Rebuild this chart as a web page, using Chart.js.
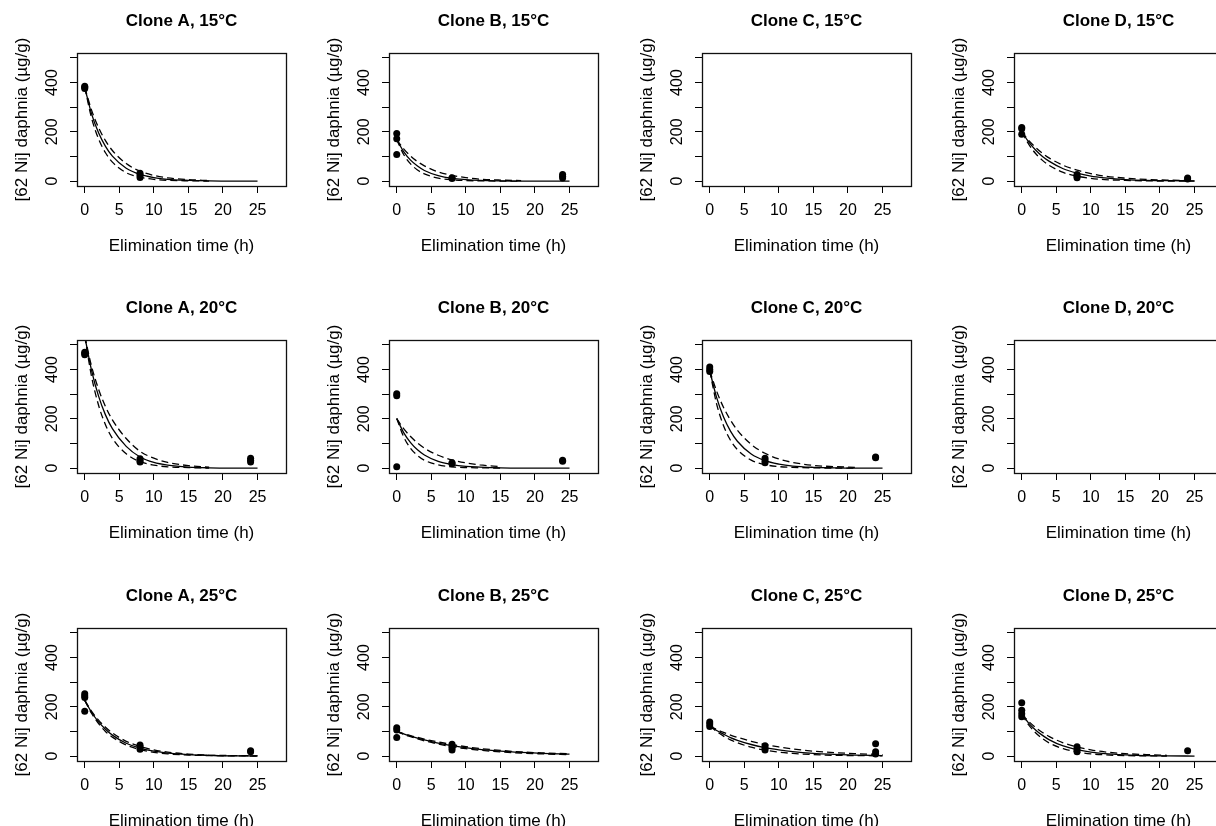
<!DOCTYPE html>
<html><head><meta charset="utf-8">
<script src="https://cdn.jsdelivr.net/npm/chart.js@4.4.1/dist/chart.umd.min.js"></script>
<style>
html,body{margin:0;padding:0;background:#fff;overflow:hidden;width:1216px;height:826px;position:relative;}
canvas.panel{position:absolute;}
</style></head><body>
<script>
// ---- axes ----
const xTicks = [0, 5, 10, 15, 20, 25];
const yTicks = [0, 100, 200, 300, 400, 500];
const yTickLabels = ['0', '', '200', '', '400', ''];
const xTitle = 'Elimination time (h)';
const yTitle = '[62 Ni] daphnia (µg/g)';
const curveTimes = [0, 1, 2, 3, 4, 6, 8, 10, 12, 15, 18, 21, 25];

// ---- Clone A, 15°C ----
const A15_t = [0, 0, 0, 8, 8, 8];
const A15_y = [376, 381, 385, 32, 24, 15];
const A15_fit = [380, 272, 196, 141, 101, 52, 27, 14, 7, 3, 1, 0, 0];
const A15_hi = [380, 287, 217, 164, 124, 71, 40, 23, 13, 6, 2];
const A15_lo = [380, 255, 171, 115, 77, 34, 16, 7, 3, 1, 0];
// ---- Clone B, 15°C ----
const B15_t = [0, 0, 0, 8, 8, 24, 24, 24];
const B15_y = [193, 172, 108, 14, 10, 27, 20, 12];
const B15_fit = [168, 120, 85, 61, 43, 22, 11, 6, 3, 1, 0, 0, 0];
const B15_hi = [168, 131, 102, 79, 62, 37, 23, 14, 8, 4, 2];
const B15_lo = [168, 108, 70, 45, 29, 12, 5, 2, 1, 0, 0];
// ---- Clone D, 15°C ----
const D15_t = [0, 0, 0, 8, 8, 8, 24, 24];
const D15_y = [218, 212, 190, 27, 20, 14, 12, 8];
const D15_fit = [200, 159, 126, 100, 80, 50, 32, 20, 13, 6, 3, 2, 1];
const D15_hi = [200, 165, 137, 113, 93, 64, 44, 30, 20, 12, 7, 4, 2];
const D15_lo = [200, 150, 112, 84, 63, 35, 20, 11, 6, 3, 1, 0, 0];
// ---- Clone A, 20°C ----
const A20_t = [0, 0, 0, 8, 8, 8, 24, 24, 24];
const A20_y = [470, 465, 460, 38, 30, 25, 40, 32, 25];
const A20_fit = [535, 395, 292, 216, 160, 88, 45, 23, 12, 4, 1, 0, 0];
const A20_hi = [535, 412, 320, 250, 196, 120, 68, 40, 23, 10, 4];
const A20_lo = [535, 370, 255, 176, 121, 58, 26, 12, 5, 2, 0];
// ---- Clone B, 20°C ----
const B20_t = [0, 0, 0, 8, 8, 24, 24];
const B20_y = [302, 294, 5, 22, 18, 32, 28];
const B20_fit = [201, 144, 103, 74, 53, 27, 14, 7, 4, 1, 0, 0, 0];
const B20_hi = [201, 160, 128, 102, 81, 52, 33, 21, 13, 6];
const B20_lo = [201, 127, 80, 51, 32, 13, 5, 2, 1, 0];
// ---- Clone C, 20°C ----
const C20_t = [0, 0, 0, 8, 8, 8, 24, 24];
const C20_y = [410, 400, 392, 40, 30, 22, 45, 42];
const C20_fit = [395, 286, 207, 150, 109, 57, 30, 16, 8, 3, 1, 0, 0];
const C20_hi = [395, 312, 246, 195, 154, 96, 60, 37, 23, 11, 6, 3];
const C20_lo = [395, 260, 172, 113, 75, 32, 14, 6, 3, 1, 0, 0];
// ---- Clone A, 25°C ----
const A25_t = [0, 0, 0, 0, 8, 8, 8, 24, 24];
const A25_y = [253, 245, 238, 182, 45, 38, 28, 22, 18];
const A25_fit = [226, 177, 139, 109, 85, 52, 32, 20, 12, 6, 3, 1, 1];
const A25_hi = [226, 181, 146, 117, 94, 60, 39, 25, 16, 8, 4, 2, 1];
const A25_lo = [226, 173, 132, 100, 77, 45, 26, 15, 9, 4, 2, 1, 0];
// ---- Clone B, 25°C ----
const B25_t = [0, 0, 0, 8, 8, 8, 8];
const B25_y = [115, 106, 75, 48, 40, 33, 25];
const B25_fit = [100, 90, 81, 73, 66, 53, 42, 34, 27, 20, 15, 11, 8];
const B25_hi = [100, 91, 83, 76, 69, 57, 47, 38, 31, 23, 17, 13, 9];
const B25_lo = [100, 88, 79, 70, 62, 49, 38, 30, 24, 17, 12, 9, 6];
// ---- Clone C, 25°C ----
const C25_t = [0, 0, 0, 8, 8, 8, 24, 24, 24];
const C25_y = [138, 130, 120, 42, 32, 25, 50, 18, 8];
const C25_fit = [122, 104, 89, 75, 64, 47, 34, 25, 18, 11, 7, 4, 2];
const C25_hi = [122, 108, 96, 85, 76, 60, 47, 37, 29, 20, 14, 10, 6];
const C25_lo = [122, 100, 81, 66, 54, 36, 24, 16, 11, 6, 3, 2, 1];
// ---- Clone D, 25°C ----
const D25_t = [0, 0, 0, 0, 8, 8, 8, 24];
const D25_y = [216, 186, 172, 160, 38, 28, 18, 22];
const D25_fit = [170, 134, 106, 84, 66, 41, 26, 16, 10, 5, 2, 1, 0];
const D25_hi = [170, 141, 116, 96, 79, 54, 37, 25, 17, 10, 6, 3];
const D25_lo = [170, 127, 95, 71, 53, 30, 17, 9, 5, 2, 1, 0];

const panelTitles = [
  'Clone A, 15°C', 'Clone B, 15°C', 'Clone C, 15°C', 'Clone D, 15°C',
  'Clone A, 20°C', 'Clone B, 20°C', 'Clone C, 20°C', 'Clone D, 20°C',
  'Clone A, 25°C', 'Clone B, 25°C', 'Clone C, 25°C', 'Clone D, 25°C'
];
const panelData = [
  [A15_t, A15_y, A15_fit, A15_hi, A15_lo],
  [B15_t, B15_y, B15_fit, B15_hi, B15_lo],
  null,
  [D15_t, D15_y, D15_fit, D15_hi, D15_lo],
  [A20_t, A20_y, A20_fit, A20_hi, A20_lo],
  [B20_t, B20_y, B20_fit, B20_hi, B20_lo],
  [C20_t, C20_y, C20_fit, C20_hi, C20_lo],
  null,
  [A25_t, A25_y, A25_fit, A25_hi, A25_lo],
  [B25_t, B25_y, B25_fit, B25_hi, B25_lo],
  [C25_t, C25_y, C25_fit, C25_hi, C25_lo],
  [D25_t, D25_y, D25_fit, D25_hi, D25_lo]
];

const FONT = '"Liberation Sans", Arial, sans-serif';
Chart.defaults.font.family = FONT;
Chart.defaults.color = '#000';

const boxPlugin = {
  id: 'rbox',
  afterDraw(chart) {
    const a = chart.chartArea, ctx = chart.ctx;
    ctx.save();
    ctx.strokeStyle = '#111';
    ctx.lineWidth = 1.3;
    ctx.strokeRect(Math.round(a.left) + 0.5, Math.round(a.top) + 0.5,
                   Math.round(a.right - a.left), Math.round(a.bottom - a.top));
    ctx.restore();
  }
};

const PW = 312, PH = 287;
const colLeft = [0, 312, 625, 937];
const rowTop = [0, 287, 575];

function xy(xs, ys) { return ys.map((y, i) => ({x: xs[i], y: y})); }

panelTitles.forEach((title, idx) => {
  const cv = document.createElement('canvas');
  cv.className = 'panel';
  cv.width = PW; cv.height = PH;
  cv.style.left = colLeft[idx % 4] + 'px';
  cv.style.top = rowTop[Math.floor(idx / 4)] + 'px';
  cv.style.width = PW + 'px'; cv.style.height = PH + 'px';
  document.body.appendChild(cv);

  const d = panelData[idx];
  const datasets = [];
  if (d) {
    datasets.push({ data: xy(d[0], d[1]), showLine: false, pointRadius: 3.5,
      pointBackgroundColor: '#000', pointBorderColor: '#000', pointBorderWidth: 0 });
    datasets.push({ data: xy(curveTimes, d[2]), showLine: true, pointRadius: 0,
      borderColor: '#000', borderWidth: 1.3, cubicInterpolationMode: 'monotone' });
    datasets.push({ data: xy(curveTimes, d[3]), showLine: true, pointRadius: 0,
      borderColor: '#000', borderWidth: 1.3, borderDash: [7, 4], cubicInterpolationMode: 'monotone' });
    datasets.push({ data: xy(curveTimes, d[4]), showLine: true, pointRadius: 0,
      borderColor: '#000', borderWidth: 1.3, borderDash: [7, 4], cubicInterpolationMode: 'monotone' });
  }

  new Chart(cv, {
    type: 'scatter',
    data: { datasets: datasets },
    plugins: [boxPlugin],
    options: {
      responsive: false, animation: false, devicePixelRatio: 1,
      layout: { padding: { left: 0, top: 0, right: 26, bottom: 0 } },
      plugins: {
        legend: { display: false }, tooltip: { enabled: false },
        title: { display: true, fullSize: false, align: 'center', text: title, color: '#000',
          font: { size: 17, weight: 'bold', family: FONT, lineHeight: 1.2 },
          padding: { top: 11.5, bottom: 21.1 } }
      },
      scales: {
        x: {
          type: 'linear', min: -1.12, max: 29.12,
          afterBuildTicks: s => { s.ticks = xTicks.map(v => ({value: v})); },
          afterFit: s => { s.height = 101; },
          grid: { drawOnChartArea: false, drawTicks: true, tickLength: 7, color: '#000', lineWidth: 1 },
          border: { display: false },
          ticks: { font: { size: 16, family: FONT }, color: '#000', padding: 8.1, maxRotation: 0, autoSkip: false,
                   callback: v => String(v) },
          title: { display: true, text: xTitle, color: '#000',
                   font: { size: 17, family: FONT, lineHeight: 1.2 }, padding: { top: 0, bottom: 30.8 } }
        },
        y: {
          type: 'linear', min: -20, max: 520,
          afterBuildTicks: s => { s.ticks = yTicks.map(v => ({value: v})); },
          afterFit: s => { s.width = 77; },
          grid: { drawOnChartArea: false, drawTicks: true, tickLength: 7, color: '#000', lineWidth: 1 },
          border: { display: false },
          ticks: { font: { size: 16, family: FONT }, color: '#000', padding: 3.7, minRotation: 90, maxRotation: 90,
                   crossAlign: 'center', autoSkip: false,
                   callback: v => { const i = yTicks.indexOf(v); return i >= 0 ? yTickLabels[i] : ''; } },
          title: { display: true, text: yTitle, color: '#000',
                   font: { size: 17, family: FONT, lineHeight: 1.2 }, padding: { top: 12.5, bottom: 0 } }
        }
      }
    }
  });
});
</script>
</body></html>
